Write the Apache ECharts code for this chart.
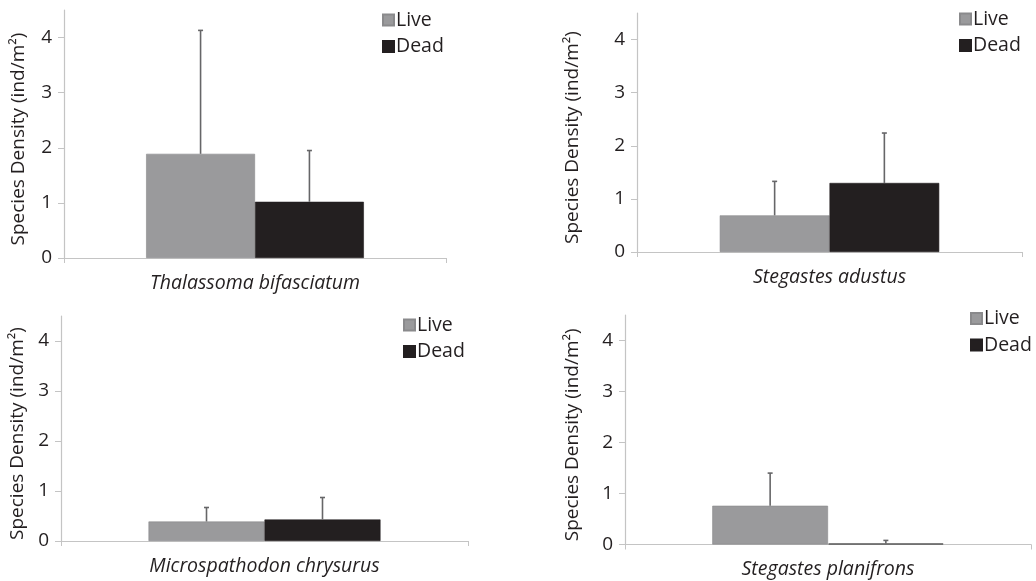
<!DOCTYPE html>
<html>
<head>
<meta charset="utf-8">
<script src="https://cdn.jsdelivr.net/npm/echarts@6/dist/echarts.min.js"></script>
<style>
html,body{margin:0;padding:0;background:#fff;}
#chart{width:1036px;height:581px;}
</style>
</head>
<body>
<div id="chart"></div>
<script>
// ---- data ----
const categories = ['Thalassoma bifasciatum', 'Stegastes adustus', 'Microspathodon chrysurus', 'Stegastes planifrons'];
const seriesNames = ['Live', 'Dead'];
const liveValues = [1.89, 0.69, 0.39, 0.76];
const liveErrors = [2.24, 0.64, 0.28, 0.64];
const deadValues = [1.02, 1.30, 0.43, 0.02];
const deadErrors = [0.93, 0.94, 0.44, 0.06];
const yTicks = [0, 1, 2, 3, 4];
const yAxisTitle = 'Species Density (ind/m²)';

// ---- layout ----
const FONT = 'Open Sans';
const grids = [
  {left: 64, top: 10, width: 382, height: 248},
  {left: 637, top: 13, width: 385, height: 239},
  {left: 61, top: 316, width: 407, height: 225},
  {left: 625, top: 315, width: 406, height: 229.5}
];
const nameGaps = [35.5, 54.5, 33.5, 42.5];
const legendPos = [
  {left: 382, top: 10},
  {left: 959, top: 9},
  {left: 403, top: 315},
  {left: 970, top: 308.5}
];
const COLORS = {Live: '#9a9a9c', Dead: '#231f20'};
const BAR_FRAC = 0.285;

const option = {
  animation: false,
  backgroundColor: '#fff',
  textStyle: {fontFamily: FONT},
  grid: grids.map(g => Object.assign({containLabel: false}, g)),
  legend: legendPos.map(p => ({
    left: p.left, top: p.top, orient: 'vertical', padding: 0,
    itemWidth: 11, itemHeight: 11, itemGap: 6.5, icon: 'rect',
    data: seriesNames,
    selectedMode: false,
    textStyle: {fontFamily: FONT, fontSize: 19.5, color: '#231f20', padding: [0, 0, 0, -3]}
  })),
  xAxis: categories.map((c, i) => ({
    type: 'category', gridIndex: i, data: [c],
    axisLine: {lineStyle: {color: '#c4c4c4', width: 1.2}},
    axisTick: {show: true, length: 5, lineStyle: {color: '#c4c4c4'}},
    axisLabel: {fontFamily: FONT, fontSize: 19.5, fontStyle: 'italic', color: '#231f20', margin: 15}
  })),
  yAxis: categories.map((c, i) => ({
    type: 'value', gridIndex: i, min: 0, max: 4.5, interval: 1,
    name: yAxisTitle, nameLocation: 'middle', nameRotate: 90, nameGap: nameGaps[i],
    nameTextStyle: {fontFamily: FONT, fontSize: 19, color: '#231f20', padding: [0, 10, 0, 0]},
    axisLine: {show: true, lineStyle: {color: '#c4c4c4', width: 1.2}},
    axisTick: {show: true, length: 6, customValues: yTicks, lineStyle: {color: '#c4c4c4'}},
    splitLine: {show: false},
    axisLabel: {fontFamily: FONT, fontSize: 19, color: '#231f20', margin: 12, customValues: yTicks}
  })),
  series: []
};

function errSeries(i, values, errors, sign, color) {
  return {
    type: 'custom', name: 'err' + sign + i, xAxisIndex: i, yAxisIndex: i, z: 5,
    data: [[0, values[i], values[i] + errors[i]]],
    renderItem: function (params, api) {
      const band = api.size([1, 0])[0];
      const base = api.coord([api.value(0), api.value(1)]);
      const top = api.coord([api.value(0), api.value(2)]);
      const x = base[0] + sign * band * BAR_FRAC / 2;
      return {
        type: 'group',
        children: [
          {type: 'line', shape: {x1: x, y1: base[1], x2: x, y2: top[1]}, style: {stroke: color, lineWidth: 1.6}},
          {type: 'line', shape: {x1: x - 2.5, y1: top[1], x2: x + 2.5, y2: top[1]}, style: {stroke: color, lineWidth: 1.6}}
        ]
      };
    }
  };
}

categories.forEach((c, i) => {
  option.series.push({
    type: 'bar', name: 'Live', xAxisIndex: i, yAxisIndex: i,
    data: [liveValues[i]], barWidth: (BAR_FRAC * 100) + '%', barGap: '0%',
    itemStyle: {color: COLORS.Live, borderColor: '#8a8a8c', borderWidth: 0.6}
  });
  option.series.push({
    type: 'bar', name: 'Dead', xAxisIndex: i, yAxisIndex: i,
    data: [deadValues[i]], barWidth: (BAR_FRAC * 100) + '%', barGap: '0%',
    itemStyle: {color: COLORS.Dead, borderColor: i === 3 ? '#555' : '#231f20', borderWidth: i === 3 ? 1.5 : 0.6}
  });
  option.series.push(errSeries(i, liveValues, liveErrors, -1, '#666668'));
  option.series.push(errSeries(i, deadValues, deadErrors, 1, '#666668'));
});

const chart = echarts.init(document.getElementById('chart'), null, {renderer: 'canvas'});
chart.setOption(option);
</script>
</body>
</html>
